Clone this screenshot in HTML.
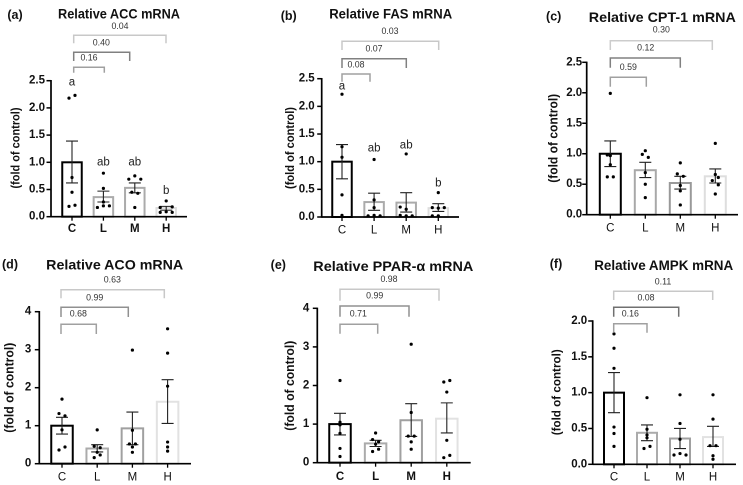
<!DOCTYPE html>
<html lang="en">
<head>
<meta charset="utf-8">
<title>Relative mRNA expression charts</title>
<style>
html,body{margin:0;padding:0;background:#fff;}
svg{display:block;font-family:"Liberation Sans",sans-serif;filter:blur(0.3px);}
.title{font-size:13.5px;font-weight:bold;fill:#111;text-anchor:middle;dominant-baseline:central;}
.plabel{font-size:12.5px;font-weight:bold;fill:#111;text-anchor:middle;dominant-baseline:central;}
.ytitle{font-size:11.5px;font-weight:bold;fill:#111;text-anchor:middle;dominant-baseline:central;}
</style>
</head>
<body>
<svg id="chart" width="743" height="485" viewBox="0 0 743 485" xmlns="http://www.w3.org/2000/svg">
<rect width="743" height="485" fill="#fff"/>
<text class="plabel" x="15" y="15">(a)</text>
<text class="title" x="119" y="14" textLength="122" lengthAdjust="spacingAndGlyphs">Relative ACC mRNA</text>
<text class="ytitle" transform="translate(16.3 148) rotate(-90)" textLength="81" lengthAdjust="spacingAndGlyphs">(fold of control)</text>
<text class="plabel" x="288.7" y="16">(b)</text>
<text class="title" x="390.7" y="14" textLength="123" lengthAdjust="spacingAndGlyphs">Relative FAS mRNA</text>
<text class="ytitle" style="font-size:11.7px" transform="translate(290.7 148) rotate(-90)" textLength="82" lengthAdjust="spacingAndGlyphs">(fold of control)</text>
<text class="plabel" x="553.7" y="16.5">(c)</text>
<text class="title" style="font-size:14px" x="662.3" y="17" textLength="147" lengthAdjust="spacingAndGlyphs">Relative CPT-1 mRNA</text>
<text class="ytitle" style="font-size:12.7px" transform="translate(553.3 138.3) rotate(-90)" textLength="89" lengthAdjust="spacingAndGlyphs">(fold of control)</text>
<text class="plabel" x="10" y="264.3">(d)</text>
<text class="title" style="font-size:14px" x="114.7" y="264.7" textLength="137" lengthAdjust="spacingAndGlyphs">Relative ACO mRNA</text>
<text class="ytitle" style="font-size:12.8px" transform="translate(9 387.7) rotate(-90)" textLength="90" lengthAdjust="spacingAndGlyphs">(fold of control)</text>
<text class="plabel" x="278.3" y="265">(e)</text>
<text class="title" style="font-size:14px" x="393.3" y="266" textLength="160" lengthAdjust="spacingAndGlyphs">Relative PPAR-α mRNA</text>
<text class="ytitle" style="font-size:12.8px" transform="translate(289.3 385.7) rotate(-90)" textLength="90" lengthAdjust="spacingAndGlyphs">(fold of control)</text>
<text class="plabel" x="556" y="264">(f)</text>
<text class="title" x="663.7" y="265.3" textLength="139" lengthAdjust="spacingAndGlyphs">Relative AMPK mRNA</text>
<text class="ytitle" style="font-size:12.3px" transform="translate(556.7 392.3) rotate(-90)" textLength="86" lengthAdjust="spacingAndGlyphs">(fold of control)</text>
</svg>
<script>
const categories = ['C', 'L', 'M', 'H'];

const accMeans = [1.0, 0.36, 0.53, 0.16];
const accErrLow = [0.62, 0.27, 0.44, 0.12];
const accErrHigh = [1.39, 0.47, 0.62, 0.19];
const accPoints = [[2.18, 2.23, 0.72, 0.45, 0.19, 0.21], [0.80, 0.52, 0.27, 0.17, 0.20, 0.20], [0.75, 0.69, 0.69, 0.45, 0.43, 0.17], [0.29, 0.17, 0.18, 0.08, 0.09, 0.08]];
const accTicks = ['0.0', '0.5', '1.0', '1.5', '2.0', '2.5'];
const accPValues = ['0.16', '0.40', '0.04'];
const accLetters = ['a', 'ab', 'ab', 'b'];
const accLetterHeights = [2.47, 1.0, 1.0, 0.47];

const fasMeans = [1.0, 0.27, 0.26, 0.16];
const fasErrLow = [0.69, 0.12, 0.09, 0.10];
const fasErrHigh = [1.31, 0.43, 0.44, 0.24];
const fasPoints = [[2.22, 1.27, 1.08, 0.40, 0.03, 0.01], [1.04, 0.31, 0.17, 0.02, 0.03, 0.02], [1.14, 0.18, 0.14, 0.03, 0.02, 0.02], [0.44, 0.17, 0.16, 0.17, 0.02, 0.02]];
const fasTicks = ['0.0', '0.5', '1.0', '1.5', '2.0', '2.5'];
const fasPValues = ['0.08', '0.07', '0.03'];
const fasLetters = ['a', 'ab', 'ab', 'b'];
const fasLetterHeights = [2.36, 1.24, 1.29, 0.61];

const cptMeans = [1.0, 0.73, 0.52, 0.63];
const cptErrLow = [0.79, 0.61, 0.42, 0.52];
const cptErrHigh = [1.21, 0.86, 0.63, 0.75];
const cptPoints = [[1.99, 0.98, 0.97, 0.82, 0.62, 0.62], [1.05, 0.99, 0.94, 0.69, 0.50, 0.28], [0.85, 0.67, 0.63, 0.48, 0.39, 0.16], [1.17, 0.66, 0.61, 0.56, 0.49, 0.34]];
const cptTicks = ['0.0', '0.5', '1.0', '1.5', '2.0', '2.5'];
const cptPValues = ['0.59', '0.12', '0.30'];

const acoMeans = [1.0, 0.40, 0.93, 1.63];
const acoErrLow = [0.78, 0.31, 0.50, 1.06];
const acoErrHigh = [1.22, 0.50, 1.36, 2.21];
const acoPoints = [[1.70, 1.32, 1.26, 0.89, 0.44, 0.36], [0.89, 0.46, 0.42, 0.30, 0.23, 0.16], [2.99, 0.88, 0.52, 0.52, 0.44, 0.30], [3.55, 2.91, 2.04, 0.57, 0.44, 0.33]];
const acoTicks = ['0', '1', '2', '3', '4'];
const acoPValues = ['0.68', '0.99', '0.63'];

const pparMeans = [1.0, 0.50, 1.10, 1.14];
const pparErrLow = [0.72, 0.42, 0.68, 0.77];
const pparErrHigh = [1.28, 0.58, 1.53, 1.55];
const pparPoints = [[2.13, 1.05, 0.98, 0.76, 0.37, 0.16], [0.77, 0.60, 0.54, 0.48, 0.35, 0.29], [3.07, 1.30, 0.69, 0.69, 0.54, 0.35], [2.13, 2.09, 1.83, 0.58, 0.19, 0.13]];
const pparTicks = ['0', '1', '2', '3', '4'];
const pparPValues = ['0.71', '0.99', '0.98'];

const ampkMeans = [1.0, 0.44, 0.36, 0.38];
const ampkErrLow = [0.72, 0.33, 0.22, 0.25];
const ampkErrHigh = [1.28, 0.55, 0.50, 0.53];
const ampkPoints = [[1.82, 1.62, 1.34, 0.52, 0.43, 0.25], [0.93, 0.49, 0.41, 0.37, 0.25, 0.22], [0.97, 0.57, 0.35, 0.15, 0.13, 0.13], [0.97, 0.63, 0.26, 0.26, 0.12, 0.07]];
const ampkTicks = ['0.0', '0.5', '1.0', '1.5', '2.0'];
const ampkPValues = ['0.16', '0.08', '0.11'];

// Layout only: plot frames, swarm slots and bracket placement.
const panels = [
  { id: 'acc', means: accMeans, low: accErrLow, high: accErrHigh, points: accPoints, ticks: accTicks, yMax: 2.5, pv: accPValues, letters: accLetters, letterY: accLetterHeights,
    axisX: 51, xEnd: 187, y0: 216.7, yTop: 80.7, xFirst: 72, xStep: 31.4, barW: 19.5, tickGap: 6, labelY: 229, xBold: true, colors: ['#000', '#ababab', '#ababab', '#dedede'],
    slots: [[-1, 1, 0, 0, -1, 1], [0, 0, 0, -2, 0, 2], [0, -2, 2, -1, 1, 0], [0, -2, 2, -2, 0, 2]],
    br: [[67.3, 73.7, 104.3, 72.7, 89, 57.5, '#a0a0a0'], [52.3, 73.7, 129.7, 61, 101.3, 42.7, '#808080'], [35.3, 73.7, 166, 43.3, 120, 26, '#c8c8c8']] },
  { id: 'fas', means: fasMeans, low: fasErrLow, high: fasErrHigh, points: fasPoints, ticks: fasTicks, yMax: 2.5, pv: fasPValues, letters: fasLetters, letterY: fasLetterHeights,
    axisX: 321.7, xEnd: 459, y0: 217, yTop: 78.7, xFirst: 342, xStep: 32.1, barW: 19.5, tickGap: 7, labelY: 230.7, xBold: false, colors: ['#000', '#ababab', '#ababab', '#dedede'],
    slots: [[0, 0, 0, 0, 0, 0], [0, 0, 0, -2, 0, 2], [0, -2, 0, -2, 0, 2], [0, -2, 0, 2, -2, 0]],
    br: [[74, 342, 370, 81.7, 356, 64.3, '#a0a0a0'], [58.7, 342, 406.3, 68, 374, 48.7, '#808080'], [41.3, 342, 438.7, 50, 390, 31, '#c8c8c8']] },
  { id: 'cpt', means: cptMeans, low: cptErrLow, high: cptErrHigh, points: cptPoints, ticks: cptTicks, yMax: 2.5, pv: cptPValues,
    axisX: 586.7, xEnd: 738, y0: 214.7, yTop: 62.3, xFirst: 610.3, xStep: 35, barW: 21, tickGap: 4.5, labelY: 228.3, xBold: false, colors: ['#000', '#a8a8a8', '#999', '#dedede'],
    slots: [[0, -1, 0, 0, -1, 1], [0, -1, 1, 0, 0, 0], [0, -1, 1, 0, 0, 0], [0, 0, 1, -1, 1, 0]],
    br: [[77.3, 610.3, 646.3, 86.7, 628.3, 67, '#a0a0a0'], [58, 610.3, 680.3, 67.7, 645.7, 47.7, '#808080'], [40.7, 610.3, 712.3, 50, 661.3, 29.7, '#cccccc']] },
  { id: 'aco', means: acoMeans, low: acoErrLow, high: acoErrHigh, points: acoPoints, ticks: acoTicks, yMax: 4, pv: acoPValues,
    axisX: 39.3, xEnd: 191, y0: 463.7, yTop: 311.7, xFirst: 62, xStep: 35.2, barW: 21.5, tickGap: 8, labelY: 477.3, xBold: false, colors: ['#000', '#ababab', '#a0a0a0', '#e2e2e2'],
    slots: [[0, -1, 1, 0, 1, -1], [0, -1, 1, 0, 1, -1], [0, 0, -1, 1, 0, 0], [0, 0, 0, 0, 0, 0]],
    br: [[324.3, 61, 96.3, 334, 78.3, 313.7, '#a0a0a0'], [307.3, 61, 128.3, 317, 94.7, 297.3, '#909090'], [289.7, 61, 164.3, 298.3, 112.3, 279.7, '#c8c8c8']] },
  { id: 'ppar', means: pparMeans, low: pparErrLow, high: pparErrHigh, points: pparPoints, ticks: pparTicks, yMax: 4, pv: pparPValues,
    axisX: 317.3, xEnd: 470.7, y0: 462.7, yTop: 308.3, xFirst: 340, xStep: 35.6, barW: 21.5, tickGap: 8, labelY: 477, xBold: true, colors: ['#000', '#ababab', '#a0a0a0', '#e2e2e2'],
    slots: [[0, 0, 0, 0, 0, 0], [0, -1, 1, 0, 1, -1], [0, 0, -1, 1, 0, 0], [1, -1, 0, 0, 1, -1]],
    br: [[324.3, 340, 377.7, 333.7, 358.3, 313.7, '#a0a0a0'], [306, 340, 409, 316.7, 374.7, 295.3, '#909090'], [289.3, 340, 439, 300.7, 389, 279, '#c8c8c8']] },
  { id: 'ampk', means: ampkMeans, low: ampkErrLow, high: ampkErrHigh, points: ampkPoints, ticks: ampkTicks, yMax: 2, pv: ampkPValues,
    axisX: 592.7, xEnd: 736, y0: 464.3, yTop: 321, xFirst: 614, xStep: 33, barW: 20, tickGap: 5.5, labelY: 477.3, xBold: false, colors: ['#000', '#ababab', '#a0a0a0', '#e2e2e2'],
    slots: [[0, 0, 0, 0, 0, 0], [0, 0, 0, 0, 1, -1], [0, 0, 0, 0, -2, 2], [0, 0, -1, 1, 0, 0]],
    br: [[323.7, 613.7, 647, 332.7, 630.3, 313.7, '#a0a0a0'], [307.3, 613.7, 678.7, 316.7, 646, 297.7, '#707070'], [291.3, 613.7, 712.7, 300, 663, 281.7, '#c8c8c8']] }
];

const NS = 'http://www.w3.org/2000/svg';
const root = document.getElementById('chart');

function make(parent, tag, attrs, text) {
  const el = document.createElementNS(NS, tag);
  for (const k in attrs) el.setAttribute(k, attrs[k]);
  if (text !== undefined) el.textContent = text;
  parent.appendChild(el);
  return el;
}

panels.forEach(function (p) {
  const yScale = function (v) { return p.y0 - (v / p.yMax) * (p.y0 - p.yTop); };
  const xScale = function (i) { return p.xFirst + i * p.xStep; };

  const g = make(root, 'g', {});
  
  

  categories.forEach(function (cat, i) {
    const bx = xScale(i);
    const bar = make(g, 'rect', { x: bx - p.barW / 2, y: yScale(p.means[i]), width: p.barW, height: p.y0 - yScale(p.means[i]), fill: '#fff', stroke: p.colors[i], 'stroke-width': 2 });
    
    
  });

  const yAxis = make(g, 'line', { x1: p.axisX, x2: p.axisX, y1: p.yTop - 0.7, y2: p.y0 + 0.7, stroke: '#000', 'stroke-width': 1.7 });
  
  
  const xAxis = make(g, 'line', { x1: p.axisX, x2: p.xEnd, y1: p.y0, y2: p.y0, stroke: '#000', 'stroke-width': 1.7 });
  
  

  p.ticks.forEach(function (label) {
    const ty = yScale(parseFloat(label));
    const mark = make(g, 'line', { x1: p.axisX - 4.5, x2: p.axisX, y1: ty, y2: ty, stroke: '#000', 'stroke-width': 1.5 });
    
    
    const txt = make(g, 'text', { x: p.axisX - p.tickGap, y: ty, 'text-anchor': 'end', 'dominant-baseline': 'central', 'font-size': 11.5, 'font-weight': 'bold', fill: '#111' }, label);
    
    
  });

  categories.forEach(function (cat, i) {
    const cx = xScale(i);
    const mark = make(g, 'line', { x1: cx, x2: cx, y1: p.y0, y2: p.y0 + 4, stroke: '#000', 'stroke-width': 1.3 });
    
    
    const txt = make(g, 'text', { x: cx, y: p.labelY, 'text-anchor': 'middle', 'dominant-baseline': 'central', 'font-size': 11.5, 'font-weight': p.xBold ? 'bold' : 'normal', fill: '#111' }, cat);
    
    
  });

  categories.forEach(function (cat, i) {
    const cx = xScale(i);
    const top = yScale(p.high[i]);
    const bottom = yScale(p.low[i]);
    const d = 'M' + cx + ' ' + top + 'V' + bottom + 'M' + (cx - 6) + ' ' + top + 'H' + (cx + 6) + 'M' + (cx - 6) + ' ' + bottom + 'H' + (cx + 6);
    const err = make(g, 'path', { d: d, fill: 'none', stroke: '#222', 'stroke-width': 1.1 });
    
    

    p.points[i].forEach(function (v, j) {
      const dot = make(g, 'circle', { cx: cx + p.slots[i][j] * 3, cy: yScale(v), r: 1.6, fill: '#000' });
      
      
    });

    if (p.letters) {
      const sig = make(g, 'text', { x: cx, y: yScale(p.letterY[i]), 'text-anchor': 'middle', 'dominant-baseline': 'central', 'font-size': 11.5, fill: '#222' }, p.letters[i]);
      
      
    }
  });

  p.br.forEach(function (b, k) {
    const d = 'M' + b[1] + ' ' + b[3] + 'V' + b[0] + 'H' + b[2] + 'V' + b[3];
    const bracket = make(g, 'path', { d: d, fill: 'none', stroke: b[6], 'stroke-width': 1.5 });
    
    
    const pt = make(g, 'text', { x: b[4], y: b[5], 'text-anchor': 'middle', 'dominant-baseline': 'central', 'font-size': 8.8, fill: '#333' }, p.pv[k]);
    
    
  });
});
</script>
</body>
</html>
